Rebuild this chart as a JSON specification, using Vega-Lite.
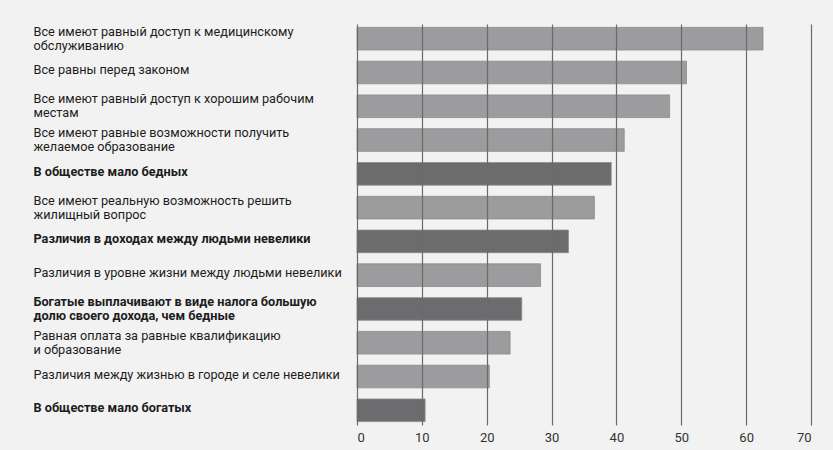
{
  "$schema": "https://vega.github.io/schema/vega-lite/v6.json",
  "width": 454,
  "height": 401,
  "autosize": {"type": "none"},
  "padding": {"left": 357, "top": 24, "right": 22, "bottom": 25},
  "background": "#f2f2f2",
  "config": {
    "view": {"stroke": null},
    "font": "Roboto"
  },
  "data": {
    "values": [
      {"label": "Все имеют равный доступ к медицинскому|обслуживанию", "value": 62.6, "group": "light"},
      {"label": "Все равны перед законом", "value": 50.8, "group": "light"},
      {"label": "Все имеют равный доступ к хорошим рабочим|местам", "value": 48.2, "group": "light"},
      {"label": "Все имеют равные возможности получить|желаемое образование", "value": 41.2, "group": "light"},
      {"label": "В обществе мало бедных", "value": 39.2, "group": "dark"},
      {"label": "Все имеют реальную возможность решить|жилищный вопрос", "value": 36.6, "group": "light"},
      {"label": "Различия в доходах между людьми невелики", "value": 32.6, "group": "dark"},
      {"label": "Различия в уровне жизни между людьми невелики", "value": 28.3, "group": "light"},
      {"label": "Богатые выплачивают в виде налога большую|долю своего дохода, чем бедные", "value": 25.4, "group": "dark"},
      {"label": "Равная оплата за равные квалификацию|и образование", "value": 23.6, "group": "light"},
      {"label": "Различия между жизнью в городе и селе невелики", "value": 20.4, "group": "light"},
      {"label": "В обществе мало богатых", "value": 10.5, "group": "dark"}
    ]
  },
  "mark": {"type": "bar", "stroke": "#8a8a8c", "strokeWidth": 0.8},
  "encoding": {
    "y": {
      "field": "label",
      "type": "nominal",
      "sort": null,
      "scale": {"paddingInner": 0.33, "paddingOuter": 0.1},
      "axis": {
        "title": null,
        "domain": false,
        "ticks": false,
        "grid": false,
        "labelExpr": "split(datum.value, '|')",
        "labelAlign": "left",
        "labelBaseline": "middle",
        "labelPadding": 324,
        "labelFontSize": 12.7,
        "labelLineHeight": 14,
        "labelColor": "#1c1c1c",
        "labelLimit": 360,
        "labelOffset": {
          "condition": {"test": "indexof(datum.value, '|') >= 0", "value": -7},
          "value": -2
        },
        "labelFontWeight": {
          "condition": {
            "test": "datum.value == 'В обществе мало бедных' || datum.value == 'Различия в доходах между людьми невелики' || datum.value == 'Богатые выплачивают в виде налога большую|долю своего дохода, чем бедные' || datum.value == 'В обществе мало богатых'",
            "value": "bold"
          },
          "value": "normal"
        }
      }
    },
    "x": {
      "field": "value",
      "type": "quantitative",
      "scale": {"domain": [0, 70], "nice": false},
      "axis": {
        "title": null,
        "values": [0, 10, 20, 30, 40, 50, 60, 70],
        "domain": false,
        "ticks": false,
        "grid": true,
        "gridColor": "#6a6a6a",
        "gridWidth": 1.2,
        "gridOpacity": 1,
        "zindex": 1,
        "labelFontSize": 13,
        "labelColor": "#333333",
        "labelPadding": 6
      }
    },
    "color": {
      "field": "group",
      "type": "nominal",
      "scale": {"domain": ["light", "dark"], "range": ["#9c9c9e", "#6c6c6e"]},
      "legend": null
    }
  }
}
